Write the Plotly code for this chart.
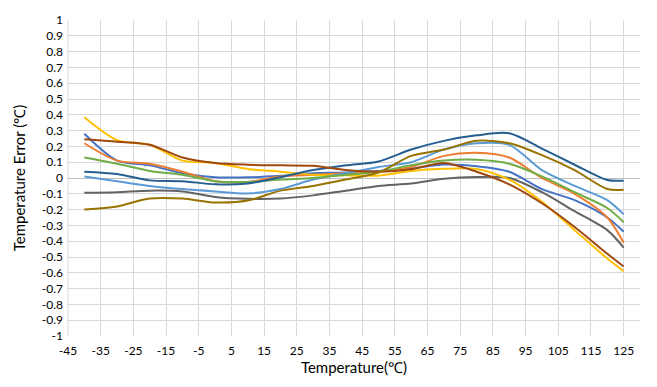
import plotly.graph_objects as go

temps = [-40, -30, -20, -10, 0, 10, 20, 30, 40, 50, 60, 70, 80, 90, 100, 110, 120, 125]

s_blue      = [0.28, 0.11, 0.08, 0.03, 0.005, 0.004, 0.014, 0.03, 0.035, 0.045, 0.06, 0.085, 0.075, 0.04, -0.07, -0.14, -0.25, -0.34]
s_orange    = [0.22, 0.11, 0.09, 0.04, -0.02, -0.025, 0.01, 0.02, 0.03, 0.04, 0.07, 0.14, 0.16, 0.13, 0.0, -0.10, -0.25, -0.41]
s_yellow    = [0.385, 0.24, 0.21, 0.11, 0.095, 0.057, 0.04, 0.02, 0.017, 0.015, 0.045, 0.058, 0.057, -0.01, -0.15, -0.33, -0.51, -0.59]
s_lightblue = [0.01, -0.02, -0.05, -0.07, -0.085, -0.098, -0.07, -0.01, 0.03, 0.07, 0.10, 0.18, 0.22, 0.21, 0.05, -0.05, -0.14, -0.23]
s_green     = [0.13, 0.09, 0.045, 0.02, -0.02, -0.025, -0.01, 0.0, 0.02, 0.04, 0.08, 0.11, 0.115, 0.09, 0.01, -0.09, -0.19, -0.28]
s_darkblue  = [0.04, 0.025, -0.015, -0.02, -0.04, -0.035, 0.005, 0.05, 0.08, 0.105, 0.18, 0.235, 0.27, 0.283, 0.186, 0.084, -0.013, -0.017]
s_brown     = [0.245, 0.23, 0.21, 0.13, 0.095, 0.084, 0.08, 0.077, 0.05, 0.04, 0.055, 0.095, 0.04, -0.04, -0.16, -0.31, -0.48, -0.56]
s_gray      = [-0.094, -0.09, -0.08, -0.085, -0.12, -0.132, -0.13, -0.11, -0.08, -0.05, -0.035, -0.005, 0.006, 0.0, -0.09, -0.21, -0.33, -0.44]
s_olive     = [-0.20, -0.18, -0.13, -0.13, -0.155, -0.143, -0.08, -0.05, -0.01, 0.035, 0.14, 0.18, 0.235, 0.22, 0.145, 0.05, -0.07, -0.075]

series = [
    ("S1", s_blue, "#4472C4"),
    ("S2", s_orange, "#ED7D31"),
    ("S3", s_gray, "#636363"),
    ("S4", s_yellow, "#FFC000"),
    ("S5", s_lightblue, "#5B9BD5"),
    ("S6", s_green, "#70AD47"),
    ("S7", s_darkblue, "#255E91"),
    ("S8", s_brown, "#9E480E"),
    ("S9", s_olive, "#997300"),
]

x_ticks = list(range(-45, 126, 10))
y_ticks = [round(-1 + 0.1 * i, 1) for i in range(21)]

def fmt(v):
    if abs(v) < 1e-9:
        return "0"
    return "%g" % v

fig = go.Figure()
for name, vals, col in series:
    fig.add_trace(go.Scatter(x=temps, y=vals, mode="lines", name=name,
                             line=dict(color=col, width=2, shape="spline", smoothing=0.8),
                             showlegend=False, hoverinfo="skip"))

fig.update_layout(
    width=657, height=387,
    margin=dict(l=68, r=17, t=18, b=51),
    paper_bgcolor="white", plot_bgcolor="white",
    font=dict(family="Lato, Liberation Sans, sans-serif", size=12, color="#000000"),
    xaxis=dict(range=[-45, 130], tickvals=x_ticks, ticktext=[str(t) for t in x_ticks],
               showgrid=True, gridcolor="#d9d9d9", gridwidth=1, zeroline=False,
               showline=False, ticks="", ticklabelstandoff=6,
               title=dict(text="Temperature(℃)", font=dict(size=15), standoff=1)),
    yaxis=dict(range=[-1, 1], tickvals=y_ticks, ticktext=[fmt(v) for v in y_ticks],
               showgrid=True, gridcolor="#d9d9d9", gridwidth=1,
               zeroline=True, zerolinecolor="#bfbfbf", zerolinewidth=1,
               showline=False, ticks="", ticklabelstandoff=4,
               title=dict(text="Temperature Error (℃)", font=dict(size=15), standoff=12)),
)
fig.add_shape(type="line", xref="paper", yref="paper", x0=0, x1=0, y0=0, y1=1,
              line=dict(color="#d9d9d9", width=1), layer="below")

fig.write_html("out.html")
